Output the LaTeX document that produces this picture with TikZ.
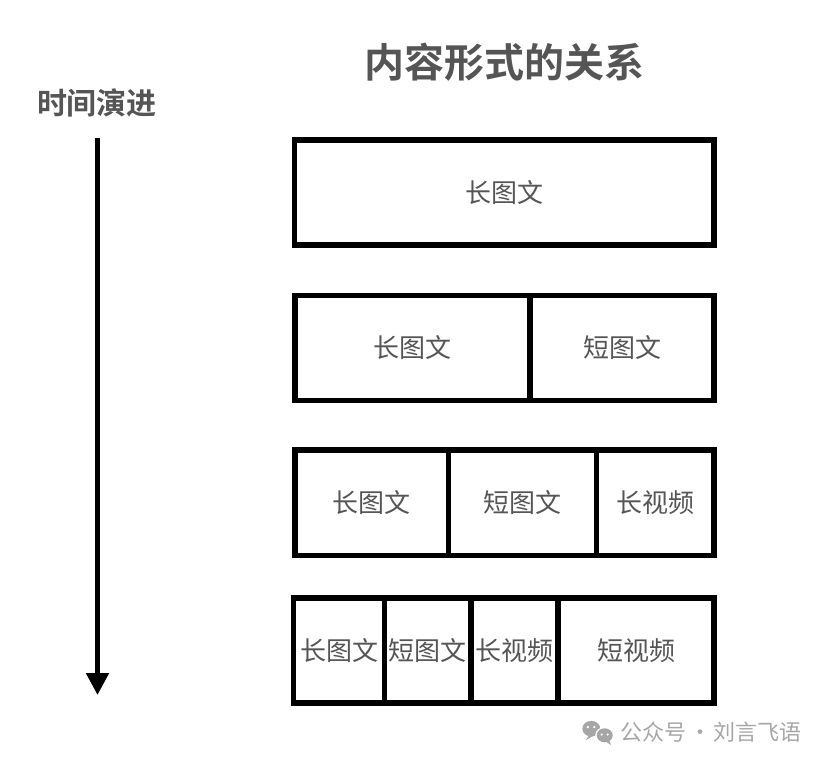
\documentclass[tikz,border=0pt]{standalone}
\usepackage{fontspec}
\usetikzlibrary{arrows.meta}
\newfontfamily\cjk{Noto Sans CJK SC}[BoldFont={Noto Sans CJK SC Bold}]
\definecolor{txtgray}{HTML}{555555}
\definecolor{wmgray}{HTML}{A6A6A6}
\tikzset{
  cell/.style={draw=black, line width=5.5pt, anchor=north west, inner sep=0pt, outer sep=0pt,
    text=txtgray, font=\cjk\fontsize{26}{30}\selectfont},
  titletext/.style={text=txtgray, font=\cjk\bfseries\fontsize{40}{46}\selectfont, inner sep=0pt},
  labeltext/.style={text=txtgray, font=\cjk\bfseries\fontsize{30}{36}\selectfont, inner sep=0pt},
  wmtext/.style={text=wmgray, font=\cjk\fontsize{22}{26}\selectfont, inner sep=0pt, anchor=west},
  timearrow/.style={line width=5pt, -{Triangle[width=22pt,length=22pt]}}
}
\begin{document}
\begin{tikzpicture}[x=1pt,y=-1pt]
\useasboundingbox (0,0) rectangle (828,766);
% title and label
\node[titletext] (title) at (504,62) {内容形式的关系};
\node[labeltext] (timelabel) at (97,103) {时间演进};
% time arrow
\coordinate (tstart) at (97.5,137.5);
\coordinate (tend) at (97.5,695);
\draw[timearrow] (tstart) -- (tend);
% row 1
\node[cell, minimum width=419.5pt, minimum height=105pt] (r1a) at (294.5,140) {长图文};
% row 2
\node[cell, minimum width=235pt, minimum height=105pt] (r2a) at (295,295.5) {长图文};
\node[cell, minimum width=184pt, minimum height=105pt] (r2b) at (530,295.5) {短图文};
% row 3
\node[cell, minimum width=153.5pt, minimum height=105.5pt] (r3a) at (295,450) {长图文};
\node[cell, minimum width=148pt, minimum height=105.5pt] (r3b) at (448.5,450) {短图文};
\node[cell, minimum width=117.5pt, minimum height=105.5pt] (r3c) at (596.5,450) {长视频};
% row 4
\node[cell, minimum width=91pt, minimum height=105pt] (r4a) at (293.5,598) {长图文};
\node[cell, minimum width=86.5pt, minimum height=105pt] (r4b) at (384.5,598) {短图文};
\node[cell, minimum width=87pt, minimum height=105pt] (r4c) at (471,598) {长视频};
\node[cell, minimum width=156pt, minimum height=105pt] (r4d) at (558,598) {短视频};
% watermark
\fill[wmgray] (591.3,728.7) ellipse [x radius=9pt, y radius=7.8pt];
\fill[wmgray] (589,735) -- (586,740) -- (593,736) -- cycle;
\fill[white] (604.7,735.3) ellipse [x radius=9.5pt, y radius=8.3pt];
\fill[wmgray] (604.7,735.3) ellipse [x radius=8pt, y radius=7pt];
\fill[wmgray] (609,740) -- (611,745) -- (605,741) -- cycle;
\fill[white] (587.8,727) circle [radius=1.3pt] (594.3,727) circle [radius=1.3pt];
\fill[white] (601.7,734.5) circle [radius=1.2pt] (607.7,734.5) circle [radius=1.2pt];
\node[wmtext] (wm) at (620.5,732) {公众号\makebox[27pt]{·}刘言飞语};
\end{tikzpicture}
\end{document}
